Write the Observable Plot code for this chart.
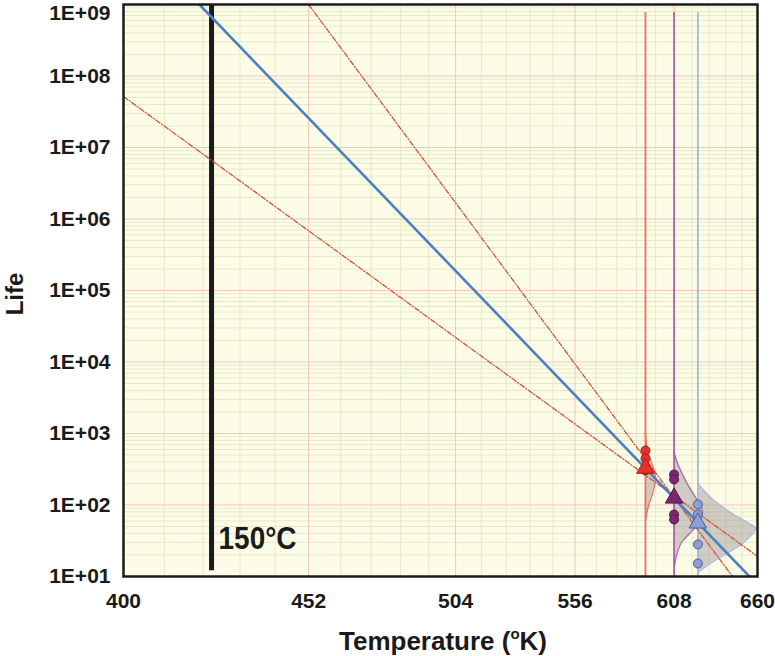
<!DOCTYPE html>
<html><head><meta charset="utf-8">
<script src="https://cdn.jsdelivr.net/npm/d3@7"></script>
<script src="https://cdn.jsdelivr.net/npm/@observablehq/plot@0.6"></script>
<style>body{margin:0;background:#fff} svg{display:block}</style>
</head><body><div id="chart"></div>
<script>
// ---- data ----
const xTickTemps = [400, 452, 504, 556, 608, 660];          // °K
const yTickLives = [1e1, 1e2, 1e3, 1e4, 1e5, 1e6, 1e7, 1e8, 1e9];
const groupTemps = [592, 608, 622];                         // test temperatures (°K)
const redLives = [578, 447, 304];
const purpleLives = [267, 228, 73.6, 62.7];
const blueLives = [102, 73.6, 28.1, 15.2];
const fitLives = [326, 125, 56];                            // triangles (fit at each stress)
const blueFitTemps = [419.8, 654.6];
const blueFitLives = [1e9, 10];
const lowBoundTemps = [400, 660];
const lowBoundLives = [5.17e7, 19.1];
const highBoundTemps = [452, 643.5];
const highBoundLives = [1e9, 10];
const markerTemp = 423.15;                                  // 150 °C
const markerLives = [1e9, 12];
const markerLabel = "150°C";
const groupLineTopLife = 7.7e8;
const redDensTemps = [592, 593.1, 595.3, 597.5, 596.4, 593.7, 592];
const redDensLives = [1032, 578, 392, 259, 160, 98.4, 60.7];
const purpleDensTemps = [608, 610.5, 615.2, 620.6, 624.8, 623.0, 617.6, 612.3, 609.4, 608];
const purpleDensLives = [542, 357, 207, 127, 83.8, 56.9, 41.2, 29.9, 19.7, 12.1];
const blueDensTemps = [622, 629.7, 642.2, 653.3, 658.7, 650.7, 637.8, 627.8, 622];
const blueDensLives = [200, 127, 78.5, 56.9, 46.9, 29.9, 19.7, 14.3, 11.4];

// ---- helpers ----
const pts = (temps, lives) => temps.map((T, i) => ({T, life: lives[i]}));
const inv = T => 1 / T;
const fmtY = d => "1E+" + String(Math.round(Math.log10(d))).padStart(2, "0");

// grid ticks
const majorX = xTickTemps.slice(1, -1);
const minorX = [];
for (let i = 0; i < xTickTemps.length - 1; i++) {
  const step = (xTickTemps[i + 1] - xTickTemps[i]) / 5;
  for (let k = 1; k < 5; k++) minorX.push(xTickTemps[i] + k * step);
}
const minorY = [];
for (let e = 1; e < 9; e++) for (let m = 2; m <= 9; m++) minorY.push(m * Math.pow(10, e));

const C = {
  bg: "#fdfde7", minor: "#e4eac6", major: "#f5c3c3",
  red: "#e3322b", redLine: "#ee6f63", redStroke: "#9e1f1a",
  purple: "#7a286f", purpleLine: "#b063aa", purpleStroke: "#4f1747",
  blue: "#8b9fd6", blueLine: "#a3badf", blueStroke: "#4b5c99",
  fit: "#4f7fc2", bound: "#c9553f", shade: "#a49c9c"
};

const font = "'Liberation Sans', Arial, Helvetica, sans-serif";

function densityMarks(temps, lives, base, lineColor) {
  const d = pts(temps, lives);
  return [
    Plot.areaX(d, {y: "life", x1: () => inv(base), x2: p => inv(p.T), fill: C.shade, fillOpacity: 0.5, curve: "catmull-rom"}),
    Plot.line(d, {x: p => inv(p.T), y: "life", stroke: lineColor, strokeWidth: 1.3, curve: "catmull-rom"})
  ];
}
function groupDots(lives, T, fill, stroke) {
  return Plot.dot(lives.map(l => ({T, life: l})), {x: p => inv(p.T), y: "life", r: 4.5, fill, stroke, strokeWidth: 1});
}

const chart = Plot.plot({
  width: 775, height: 656,
  marginLeft: 123, marginRight: 18, marginTop: 4, marginBottom: 80,
  style: {fontFamily: font, background: "#fff", color: "#1a1a1a"},
  x: {type: "linear", domain: [inv(400), inv(660)], axis: null},
  y: {type: "log", domain: [10, 1e9], axis: null},
  marks: [
    Plot.frame({fill: C.bg}),
    Plot.ruleX(minorX, {x: inv, stroke: C.minor, strokeWidth: 1}),
    Plot.ruleY(minorY, {stroke: C.minor, strokeWidth: 1}),
    Plot.ruleX(majorX, {x: inv, stroke: C.major, strokeWidth: 1}),
    Plot.ruleY(yTickLives, {stroke: C.major, strokeWidth: 1}),
    ...densityMarks(redDensTemps, redDensLives, groupTemps[0], C.redLine),
    ...densityMarks(purpleDensTemps, purpleDensLives, groupTemps[1], C.purpleLine),
    ...densityMarks(blueDensTemps, blueDensLives, groupTemps[2], C.blueLine),
    Plot.ruleX([groupTemps[0]], {x: inv, y1: groupLineTopLife, y2: 10, stroke: C.redLine, strokeWidth: 1.8}),
    Plot.ruleX([groupTemps[1]], {x: inv, y1: groupLineTopLife, y2: 10, stroke: C.purpleLine, strokeWidth: 1.8}),
    Plot.ruleX([groupTemps[2]], {x: inv, y1: groupLineTopLife, y2: 10, stroke: C.blueLine, strokeWidth: 1.8}),
    Plot.ruleX([markerTemp], {x: inv, y1: markerLives[0], y2: markerLives[1], stroke: "#1b1b1b", strokeWidth: 5}),
    Plot.line(pts(lowBoundTemps, lowBoundLives), {x: p => inv(p.T), y: "life", stroke: C.bound, strokeWidth: 1.3, strokeDasharray: "5,2,1,2", clip: true}),
    Plot.line(pts(highBoundTemps, highBoundLives), {x: p => inv(p.T), y: "life", stroke: C.bound, strokeWidth: 1.3, strokeDasharray: "5,2,1,2", clip: true}),
    Plot.line(pts(blueFitTemps, blueFitLives), {x: p => inv(p.T), y: "life", stroke: C.fit, strokeWidth: 2.6, clip: true}),
    groupDots(redLives, groupTemps[0], C.red, C.redStroke),
    groupDots(purpleLives, groupTemps[1], C.purple, C.purpleStroke),
    groupDots(blueLives, groupTemps[2], C.blue, C.blueStroke),
    Plot.dot([0, 1, 2].map(i => ({T: groupTemps[i], life: fitLives[i], c: [C.red, C.purple, C.blue][i], s: [C.redStroke, C.purpleStroke, C.blueStroke][i]})),
      {x: p => inv(p.T), y: "life", symbol: "triangle", r: 6.5, fill: p => p.c, stroke: p => p.s, strokeWidth: 1}),
    Plot.text([markerLabel], {x: inv(markerTemp), y: 34, text: d => d, textAnchor: "start", dx: 7, fontSize: 32, fontWeight: "bold",
      fill: "#1b1b1b", className: "marker-label"}),
    Plot.frame({stroke: "#1b1b1b", strokeWidth: 2.5}),
    Plot.axisX(xTickTemps.map(inv), {tickSize: 0, tickPadding: 17, tickFormat: d => String(Math.round(1 / d)), fontSize: 21, fontWeight: "bold", label: null}),
    Plot.axisY(yTickLives.slice(0, -1), {tickSize: 0, tickPadding: 13, tickFormat: fmtY, fontSize: 21, fontWeight: "bold", label: null}),
    Plot.text([1e9], {y: d => d, frameAnchor: "left", dx: -13, dy: 9, textAnchor: "end", text: fmtY, fontSize: 21, fontWeight: "bold", fill: "#1a1a1a"})
  ]
});

const svg = d3.select(chart);
svg.selectAll(".marker-label text").attr("textLength", 78).attr("lengthAdjust", "spacingAndGlyphs");
const xl = svg.append("text").attr("x", 443).attr("y", 650).attr("text-anchor", "middle")
  .attr("font-size", 26).attr("font-weight", "bold").attr("fill", "#1a1a1a").attr("font-family", font);
xl.append("tspan").text("Temperature (");
xl.append("tspan").attr("font-size", 15).attr("dy", -11).text("o");
xl.append("tspan").attr("dy", 11).text("K)");
svg.append("text").attr("transform", "translate(23,294) rotate(-90)").attr("text-anchor", "middle")
  .attr("font-size", 24).attr("font-weight", "bold").attr("fill", "#1a1a1a").attr("font-family", font).text("Life");

document.getElementById("chart").appendChild(chart);
</script></body></html>
